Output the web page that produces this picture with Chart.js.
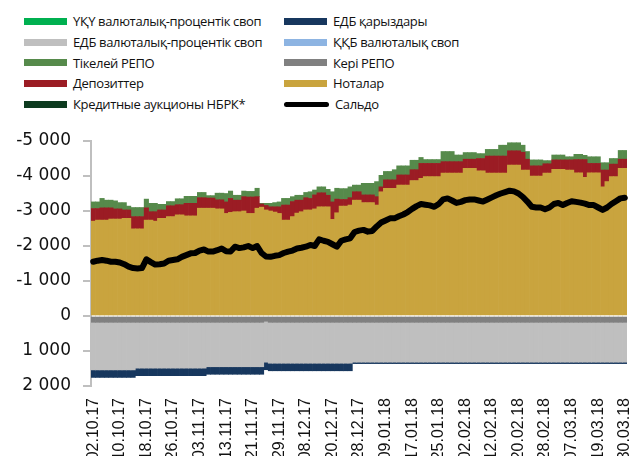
<!DOCTYPE html>
<html>
<head>
<meta charset="utf-8">
<script src="https://cdn.jsdelivr.net/npm/chart.js@4.4.1/dist/chart.umd.min.js"></script>
<style>
  body { margin: 0; width: 630px; height: 456px; overflow: hidden; position: relative; background: #fff; font-family: "Open Sans", sans-serif; }
  .item { position: absolute; height: 20px; display: flex; align-items: center; font-size: 13px; letter-spacing: -0.35px; color: #111; white-space: nowrap; }
  .sw { display: inline-block; width: 43px; height: 7px; margin-right: 6px; }
  .line { height: 5px; border-radius: 3px; width: 45px; }
  #wrap { position: absolute; left: 0; top: 125px; width: 630px; height: 340px; }
</style>
</head>
<body>
<div id="legend"></div>
<div id="wrap"><canvas id="myChart" width="630" height="340"></canvas></div>
<script>
// daily dates (working days)
var dates = [
  '02.10.17','03.10.17','04.10.17','05.10.17','06.10.17','09.10.17','10.10.17','11.10.17','12.10.17','13.10.17',
  '16.10.17','17.10.17','18.10.17','19.10.17','20.10.17','23.10.17','24.10.17','25.10.17','26.10.17','27.10.17',
  '30.10.17','31.10.17','01.11.17','02.11.17','03.11.17','06.11.17','07.11.17','08.11.17','09.11.17','10.11.17',
  '13.11.17','14.11.17','15.11.17','16.11.17','17.11.17','20.11.17','21.11.17','22.11.17','23.11.17','24.11.17',
  '27.11.17','28.11.17','29.11.17','30.11.17','04.12.17','05.12.17','06.12.17','07.12.17','08.12.17','11.12.17',
  '12.12.17','13.12.17','14.12.17','15.12.17','20.12.17','21.12.17','22.12.17','25.12.17','26.12.17','27.12.17',
  '28.12.17','29.12.17','03.01.18','04.01.18','05.01.18','08.01.18','09.01.18','10.01.18','11.01.18','12.01.18',
  '15.01.18','16.01.18','17.01.18','18.01.18','19.01.18','22.01.18','23.01.18','24.01.18','25.01.18','26.01.18',
  '29.01.18','30.01.18','31.01.18','01.02.18','02.02.18','05.02.18','06.02.18','07.02.18','08.02.18','09.02.18',
  '12.02.18','13.02.18','14.02.18','15.02.18','16.02.18','19.02.18','20.02.18','21.02.18','22.02.18','23.02.18',
  '26.02.18','27.02.18','28.02.18','01.03.18','02.03.18','03.03.18','05.03.18','06.03.18','07.03.18','12.03.18',
  '13.03.18','14.03.18','15.03.18','16.03.18','19.03.18','20.03.18','26.03.18','27.03.18','28.03.18','29.03.18',
  '30.03.18'
];

// Ноталар
var notes = [
  -2710,-2740,-2740,-2740,-2770,-2770,-2770,-2790,-2790,-2490,
  -2490,-2490,-2740,-2740,-2710,-2790,-2790,-2840,-2840,-2890,
  -2890,-2860,-2860,-2860,-3080,-3080,-3080,-3080,-3060,-3060,
  -2930,-2960,-2980,-2980,-3000,-2930,-2930,-3080,-3110,-3030,
  -3000,-2970,-2930,-2740,-2740,-2840,-2940,-2980,-3030,-3030,
  -3060,-3120,-3120,-3120,-2760,-2950,-3140,-3140,-3170,-3310,
  -3310,-3240,-3240,-3240,-3170,-3550,-3650,-3650,-3650,-3740,
  -3740,-3740,-3870,-3870,-3930,-3980,-3980,-3980,-3980,-4080,
  -4080,-4080,-4080,-4080,-4220,-4220,-4220,-4150,-4150,-4080,
  -4080,-4080,-4080,-4080,-4310,-4310,-4310,-4170,-4170,-4000,
  -4000,-4000,-4080,-4080,-4190,-4190,-4190,-4170,-4170,-4090,
  -4090,-3960,-4090,-4090,-4090,-3690,-3840,-3980,-3980,-4220,
  -4220
];

// Депозиттер
var deposits = [
  -360,-330,-350,-350,-320,-290,-290,-240,-240,-350,
  -350,-350,-350,-240,-270,-240,-240,-310,-310,-290,
  -290,-360,-360,-360,-300,-300,-290,-290,-260,-260,
  -330,-400,-330,-330,-410,-470,-470,-330,-90,-130,
  -120,-150,-190,-430,-430,-430,-370,-330,-350,-330,
  -400,-400,-400,-330,-500,-390,-190,-190,-210,-240,
  -240,-220,-220,-220,-240,-140,-240,-240,-240,-290,
  -290,-290,-310,-310,-430,-380,-380,-380,-380,-330,
  -330,-330,-330,-330,-260,-260,-260,-350,-350,-490,
  -490,-490,-490,-490,-410,-410,-410,-510,-310,-290,
  -290,-290,-270,-270,-270,-270,-270,-290,-290,-380,
  -380,-510,-270,-270,-270,-480,-330,-360,-360,-260,
  -260
];

// Тікелей РЕПО
var repo = [
  -190,-190,-270,-220,-220,-230,-180,-210,-110,-260,
  -260,-260,-250,-240,-240,-160,-160,-120,-120,-170,
  -170,-200,-200,-200,-150,-150,-70,-70,-190,-190,
  -240,-210,-140,-140,-160,-160,-160,-240,-20,-60,
  -100,-120,-140,-190,-190,-140,-140,-140,-150,-190,
  -140,-170,-170,-170,-290,-310,-310,-310,-310,-190,
  -190,-330,-330,-330,-430,-330,-240,-240,-290,-260,
  -260,-260,-270,-270,-170,-110,-110,-110,-110,-290,
  -290,-290,-190,-190,-190,-190,-190,-140,-140,-190,
  -190,-190,-310,-310,-230,-230,-230,-200,-220,-170,
  -170,-170,-90,-90,-140,-140,-140,-90,-90,-150,
  -150,-120,-190,-190,-190,-210,-210,-160,-160,-250,
  -250
];

// Кері РЕПО
var reverseRepo = [
  180,180,180,180,180,180,180,180,180,180,
  180,180,180,180,180,180,180,180,180,180,
  180,180,180,180,180,180,180,180,180,180,
  180,180,180,180,180,180,180,180,180,150,
  180,180,180,180,180,180,180,180,180,180,
  180,180,180,180,180,180,180,180,180,180,
  180,180,180,180,180,180,180,180,180,180,
  180,180,180,180,180,180,180,180,180,180,
  180,180,180,180,180,180,180,180,180,180,
  180,180,180,180,180,180,180,180,180,180,
  180,180,180,180,180,180,180,180,180,180,
  180,180,180,180,180,180,180,180,180,180,
  180
];

// ЕДБ валюталық-процентік своп
var edbSwap = [
  1360,1360,1360,1360,1360,1360,1360,1360,1360,1360,
  1310,1310,1310,1310,1310,1310,1310,1310,1310,1310,
  1310,1310,1310,1310,1310,1310,1270,1270,1270,1270,
  1270,1270,1270,1270,1270,1270,1270,1270,1270,1170,
  1170,1170,1170,1170,1170,1170,1170,1170,1170,1170,
  1170,1170,1170,1170,1170,1170,1170,1170,1170,1140,
  1140,1140,1140,1140,1140,1140,1140,1140,1140,1140,
  1140,1140,1140,1140,1140,1140,1140,1140,1140,1140,
  1140,1140,1140,1140,1140,1140,1140,1140,1140,1140,
  1140,1140,1140,1140,1140,1140,1140,1140,1140,1140,
  1140,1140,1140,1140,1140,1140,1140,1140,1140,1140,
  1140,1140,1140,1140,1140,1140,1140,1140,1140,1140,
  1140
];

// ЕДБ қарыздары
var edbLoans = [
  215,215,215,215,215,215,215,215,215,215,
  215,215,215,215,215,215,215,215,215,215,
  215,215,215,215,215,215,215,215,215,215,
  215,215,215,215,215,215,215,215,215,215,
  215,215,215,215,215,215,215,215,215,215,
  215,215,215,215,215,215,215,215,215,40,
  40,40,40,40,40,40,40,40,40,40,
  40,40,40,40,40,40,40,40,40,40,
  40,40,40,40,40,40,40,40,40,40,
  40,40,40,40,40,40,40,40,40,40,
  40,40,40,40,40,40,40,40,40,40,
  40,40,40,40,40,40,40,40,40,40,
  40
];

// Сальдо
var saldo = [
  -1550,-1580,-1600,-1580,-1550,-1550,-1530,-1480,-1410,-1370,
  -1360,-1370,-1620,-1540,-1470,-1480,-1500,-1580,-1600,-1620,
  -1690,-1740,-1790,-1800,-1870,-1900,-1840,-1840,-1880,-1930,
  -1850,-1840,-1980,-1940,-1960,-2000,-1940,-2000,-1800,-1700,
  -1690,-1720,-1740,-1800,-1840,-1870,-1930,-1950,-1980,-2030,
  -2000,-2190,-2150,-2120,-2050,-1980,-2150,-2190,-2220,-2400,
  -2440,-2460,-2410,-2430,-2560,-2670,-2730,-2790,-2790,-2850,
  -2900,-2970,-3060,-3140,-3200,-3180,-3160,-3120,-3200,-3330,
  -3360,-3300,-3230,-3260,-3310,-3330,-3330,-3300,-3270,-3330,
  -3390,-3450,-3500,-3540,-3580,-3560,-3500,-3400,-3270,-3120,
  -3100,-3100,-3050,-3100,-3200,-3230,-3170,-3230,-3280,-3260,
  -3240,-3210,-3170,-3170,-3100,-3030,-3100,-3200,-3280,-3360,
  -3380
];

// legend (two columns like the original)
var legendLeft = [
  ['ҮҚҮ валюталық-процентік своп', '#00B050'],
  ['ЕДБ валюталық-процентік своп', '#BFBFBF'],
  ['Тікелей РЕПО', '#568A4B'],
  ['Депозиттер', '#9B1C24'],
  ['Кредитные аукционы НБРК*', '#0D3B1F']
];
var legendRight = [
  ['ЕДБ қарыздары', '#17375E'],
  ['ҚҚБ валюталық своп', '#8DB4E2'],
  [' Кері РЕПО', '#808080'],
  ['Ноталар', '#C9A43E'],
  ['Сальдо', '#000000']
];
var rowTops = [11, 32, 52.5, 73, 94];
var legend = document.getElementById('legend');
function addItem(item, x, y, isLine) {
  var d = document.createElement('div');
  d.className = 'item';
  d.style.left = x + 'px';
  d.style.top = y + 'px';
  var s = document.createElement('span');
  s.className = isLine ? 'sw line' : 'sw';
  s.style.background = item[1];
  d.appendChild(s);
  d.appendChild(document.createTextNode(item[0]));
  legend.appendChild(d);
}
legendLeft.forEach(function (it, i) { addItem(it, 24, rowTops[i], false); });
legendRight.forEach(function (it, i) { addItem(it, 284, rowTops[i], i === 4); });

function fmt(v) {
  return v.toString().replace(/\B(?=(\d{3})+(?!\d))/g, ' ');
}

var ctx = document.getElementById('myChart').getContext('2d');
var myChart = new Chart(ctx, {
  type: 'bar',
  data: {
    labels: dates,
    datasets: [
      { label: 'Ноталар', data: notes, backgroundColor: '#C9A43E', order: 1 },
      { label: 'Депозиттер', data: deposits, backgroundColor: '#9B1C24', order: 1 },
      { label: 'Тікелей РЕПО', data: repo, backgroundColor: '#568A4B', order: 1 },
      { label: 'Кері РЕПО', data: reverseRepo, backgroundColor: '#808080', order: 1 },
      { label: 'ЕДБ валюталық-процентік своп', data: edbSwap, backgroundColor: '#BFBFBF', order: 1 },
      { label: 'ЕДБ қарыздары', data: edbLoans, backgroundColor: '#17375E', order: 1 },
      {
        type: 'line', label: 'Сальдо', data: saldo, stack: 'saldo',
        borderColor: '#000', borderWidth: 6, pointRadius: 0, tension: 0,
        borderCapStyle: 'round', borderJoinStyle: 'round', order: 0
      }
    ]
  },
  options: {
    responsive: false,
    animation: false,
    datasets: { bar: { categoryPercentage: 1, barPercentage: 1, borderWidth: 0 } },
    layout: { autoPadding: false, padding: { top: 16, left: 0, right: 3, bottom: 0 } },
    plugins: { legend: { display: false }, tooltip: { enabled: false } },
    scales: {
      x: {
        stacked: true,
        grid: { display: false },
        border: { display: false },
        ticks: {
          autoSkip: false, maxRotation: 90, minRotation: 90, padding: 4,
          color: '#111', font: { family: 'Liberation Sans', size: 16 },
          callback: function (v, i) { return i % 6 === 0 ? dates[i] : ''; }
        },
        afterFit: function (a) {
          a.height = 79;
          a.paddingLeft = 0; a.paddingRight = 0;
        }
      },
      y: {
        stacked: true,
        reverse: true,
        min: -5000,
        max: 2000,
        ticks: {
          stepSize: 1000, padding: 12, color: '#111',
          font: { family: 'DejaVu Sans', size: 17 },
          callback: function (v) { return fmt(v); }
        },
        grid: { drawOnChartArea: false, tickLength: 8, color: '#BFBFBF', lineWidth: 2 },
        border: { color: '#BFBFBF', width: 2 },
        afterFit: function (a) {
          a.width = 91;
          a.paddingTop = 0; a.paddingBottom = 0;
        }
      }
    }
  }
});
</script>
</body>
</html>
